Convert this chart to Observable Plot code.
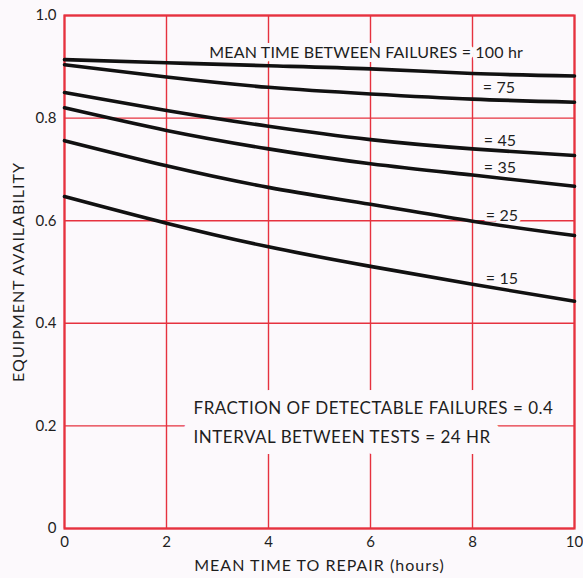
<!DOCTYPE html>
<html>
<head>
<meta charset="utf-8">
<script src="https://cdn.jsdelivr.net/npm/d3@7"></script>
<script src="https://cdn.jsdelivr.net/npm/@observablehq/plot@0.6"></script>
<style>
  html, body { margin: 0; padding: 0; background: #fcf9fc; }
  #chart svg { display: block; }
  .curvelabel text { letter-spacing: 0.15px; }
  .note text { letter-spacing: 0.5px; }
  g[aria-label="x-axis label"] text, g[aria-label="y-axis label"] text { letter-spacing: 1px; font-size: 16px; }
</style>
</head>
<body>
<div id="chart"></div>
<script>
// ---- data ----
const repairHours = [0, 2, 4, 6, 8, 10];
const mtbfSeries = [100, 75, 45, 35, 25, 15];
const avail100 = [0.914, 0.908, 0.902, 0.896, 0.887, 0.882];
const avail75  = [0.904, 0.880, 0.860, 0.847, 0.837, 0.831];
const avail45  = [0.850, 0.815, 0.784, 0.758, 0.740, 0.727];
const avail35  = [0.820, 0.776, 0.740, 0.711, 0.689, 0.667];
const avail25  = [0.756, 0.707, 0.665, 0.632, 0.599, 0.571];
const avail15  = [0.647, 0.595, 0.549, 0.511, 0.476, 0.443];
const xTicks = [0, 2, 4, 6, 8, 10];
const yTicks = [0, 0.2, 0.4, 0.6, 0.8, 1.0];
const curveLabels = ["MEAN TIME BETWEEN FAILURES = 100 hr", "= 75", "= 45", "= 35", "= 25", "= 15"];
const curveLabelX = [2.84, 8.2, 8.22, 8.22, 8.26, 8.26];
const curveLabelY = [0.928, 0.858, 0.756, 0.703, 0.610, 0.487];
const noteLines = ["FRACTION OF DETECTABLE FAILURES = 0.4", "INTERVAL BETWEEN TESTS = 24 HR"];
const noteX = [2.53, 2.53];
const noteY = [0.233, 0.177];

const seriesValues = [avail100, avail75, avail45, avail35, avail25, avail15];
const rows = mtbfSeries.flatMap((m, i) =>
  repairHours.map((h, j) => ({mtbf: m, hours: h, avail: seriesValues[i][j]})));
const labelRows = curveLabels.map((t, i) => ({text: t, x: curveLabelX[i], y: curveLabelY[i]}));
const noteRows = noteLines.map((t, i) => ({text: t, x: noteX[i], y: noteY[i]}));

const RED = "#e6323f";
const BG = "#fcf9fc";
const INK = "#1e1e1e";
const FONT = "Lato, 'DejaVu Sans', sans-serif";

const chart = Plot.plot({
  width: 583,
  height: 578,
  marginLeft: 64,
  marginRight: 9,
  marginTop: 15,
  marginBottom: 50,
  style: {background: BG, fontFamily: FONT, fontSize: "15px", color: INK, overflow: "visible"},
  x: {domain: [0, 10], label: "MEAN TIME TO REPAIR (hours)"},
  y: {domain: [0, 1], label: "EQUIPMENT AVAILABILITY"},
  marks: [
    Plot.gridX(xTicks, {stroke: RED, strokeOpacity: 1, strokeWidth: 1.4}),
    Plot.gridY(yTicks, {stroke: RED, strokeOpacity: 1, strokeWidth: 1.4}),
    Plot.frame({stroke: RED, strokeWidth: 2.2}),
    Plot.axisX(xTicks, {
      tickSize: 0, tickPadding: 8, tickFormat: d => String(d), fontSize: 15,
      label: "MEAN TIME TO REPAIR (hours)", labelAnchor: "center", labelOffset: 42, labelArrow: "none"
    }),
    Plot.axisY(yTicks, {
      tickSize: 0, tickPadding: 8, tickFormat: d => d === 0 ? "0" : d.toFixed(1), fontSize: 15,
      label: "EQUIPMENT AVAILABILITY", labelAnchor: "center", labelOffset: 52, labelArrow: "none"
    }),
    // halos that break the grid behind the annotations
    Plot.text(labelRows, {
      className: "curvelabel", x: "x", y: "y", text: "text", textAnchor: "start", fontSize: 16,
      fill: "none", stroke: BG, strokeWidth: 8, strokeLinejoin: "round"
    }),
    Plot.text(noteRows, {
      className: "note", x: "x", y: "y", text: "text", textAnchor: "start", fontSize: 17,
      fill: "none", stroke: BG, strokeWidth: 22, strokeLinejoin: "round"
    }),
    Plot.text(labelRows, {
      className: "curvelabel", x: "x", y: "y", text: "text", textAnchor: "start", fontSize: 16, fill: INK
    }),
    Plot.text(noteRows, {
      className: "note", x: "x", y: "y", text: "text", textAnchor: "start", fontSize: 17, fill: INK
    }),
    Plot.line(rows, {x: "hours", y: "avail", z: "mtbf", stroke: "#111", strokeWidth: 3.6, curve: "natural"})
  ]
});
document.getElementById("chart").append(chart);
</script>
</body>
</html>
